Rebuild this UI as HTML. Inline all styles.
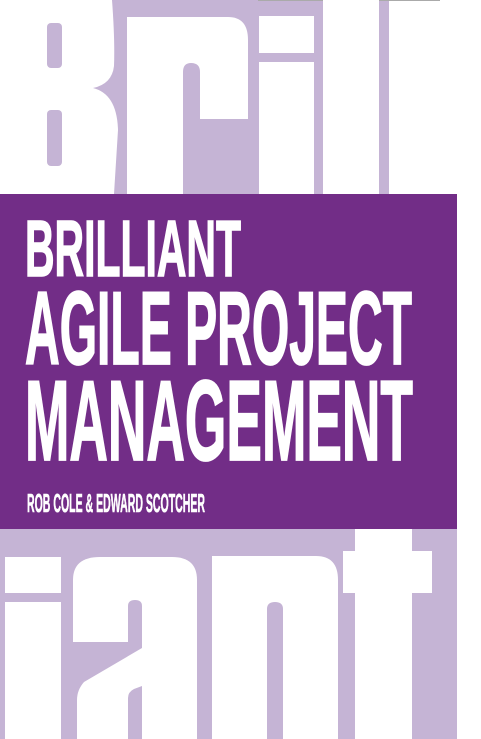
<!DOCTYPE html>
<html><head><meta charset="utf-8"><style>
html,body{margin:0;padding:0;background:#fff;width:481px;height:739px;overflow:hidden}
svg{display:block}
</style></head><body>
<svg width="481" height="739" viewBox="0 0 481 739" xmlns="http://www.w3.org/2000/svg">
<rect x="0" y="0" width="481" height="739" fill="#fff"/>
<rect x="0" y="0" width="389" height="194" fill="#c5b4d5"/>
<line x1="258" y1="0.5" x2="440" y2="0.5" stroke="#aaa" stroke-width="1"/>
<!-- B -->
<path d="M0,0 L112,0 Q115,40 114,66 Q112,84 93,88 Q117,94 118,130 L114,194 L0,194 Z" fill="#fff"/>
<rect x="47" y="23" width="15" height="45" rx="4" fill="#c5b4d5"/>
<rect x="47" y="110" width="15" height="56" rx="4" fill="#c5b4d5"/>
<!-- r -->
<path d="M127,17 L228,17 Q248,17 248,40 L248,119 L200,119 L200,72 Q200,63 191,63 Q183,63 183,72 L183,194 L127,194 Z" fill="#fff"/>
<!-- i -->
<rect x="259" y="16" width="55" height="37" fill="#fff"/>
<rect x="259" y="62" width="55" height="132" fill="#fff"/>
<!-- l -->
<rect x="323" y="0" width="56" height="194" fill="#fff"/>
<!-- purple band -->
<rect x="0" y="194" width="457" height="335" fill="#722d87"/>
<g font-family="'Liberation Sans', Arial, sans-serif" font-weight="bold" fill="#fff" stroke="#fff">
<text x="25" y="276" font-size="80" stroke-width="1.5" textLength="216" lengthAdjust="spacingAndGlyphs">BRILLIANT</text>
<text x="25" y="364" font-size="104" stroke-width="1.8" textLength="387" lengthAdjust="spacingAndGlyphs">AGILE PROJECT</text>
<text x="25" y="460" font-size="114" stroke-width="1.8" textLength="388" lengthAdjust="spacingAndGlyphs">MANAGEMENT</text>
<text x="27" y="512" font-size="26" stroke-width="0.6" textLength="178" lengthAdjust="spacingAndGlyphs">ROB COLE &amp; EDWARD SCOTCHER</text>
</g>
<!-- bottom lavender -->
<rect x="0" y="529" width="457" height="210" fill="#c5b4d5"/>
<!-- i -->
<rect x="5" y="557" width="56" height="36" fill="#fff"/>
<rect x="5" y="602" width="56" height="137" fill="#fff"/>
<!-- a -->
<path d="M73,739 L73,580 Q73,557 100,557 L172,557 Q197,557 197,580 L197,739 Z" fill="#fff"/>
<path d="M128,647 L128,606 Q128,600 135,600 Q142,600 142,606 L142,647 Z" fill="#c5b4d5"/>
<path d="M73,642 L142,642 L142,648 L84,682 Q77,690 77,700 L77,739 L73,739 Z" fill="#c5b4d5"/>
<path d="M128,739 L128,698 Q128,692 134,689 L142,686 L142,739 Z" fill="#c5b4d5"/>
<!-- n -->
<path d="M212,739 L212,556 L316,556 Q338,556 338,580 L338,739 L283,739 L283,609 Q283,602 275,602 Q267,602 267,609 L267,739 Z" fill="#fff"/>
<!-- t -->
<rect x="355" y="529" width="57" height="210" fill="#fff"/>
<rect x="343" y="551" width="89" height="42" fill="#fff"/>
</svg>
</body></html>
